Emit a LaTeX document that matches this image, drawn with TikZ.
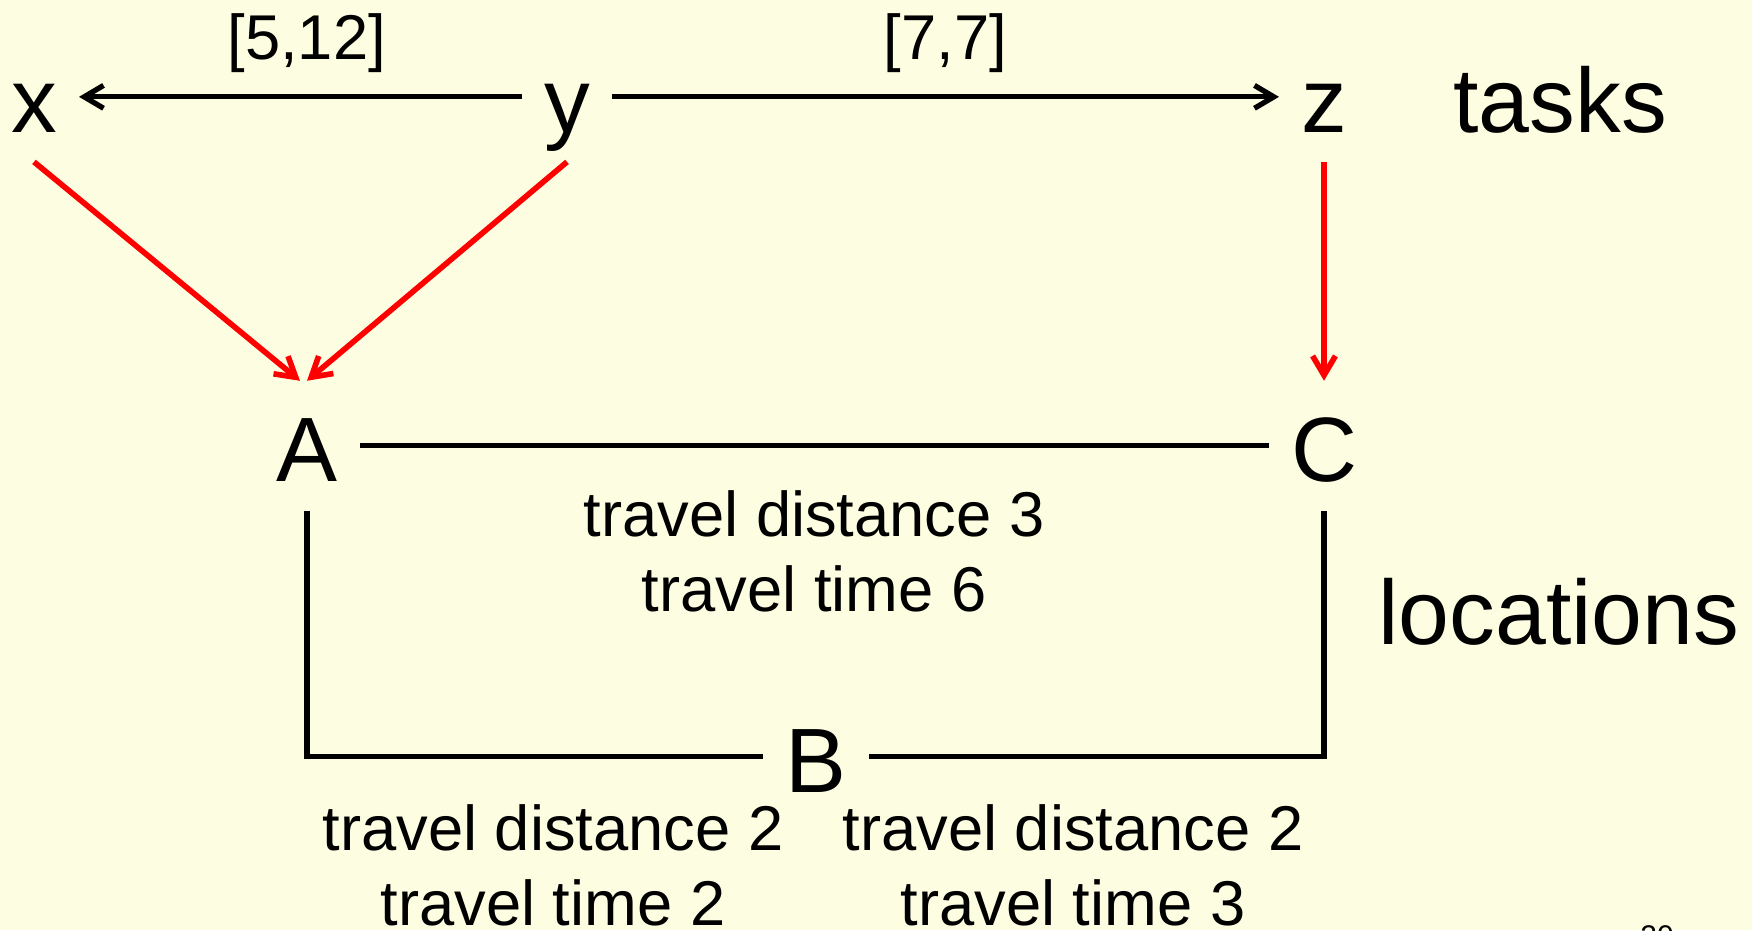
\documentclass[tikz,border=0pt]{standalone}
\usepackage{fontspec}
\setmainfont{Liberation Sans}
\usetikzlibrary{arrows.meta,positioning}
\definecolor{slidebg}{HTML}{FDFDE2}
\definecolor{asgred}{HTML}{FF0000}
\definecolor{inkdark}{HTML}{000000}
\tikzset{
  letter/.style={font=\fontsize{26}{30}\selectfont,inner sep=0pt,outer sep=6.3pt,text height=22.2pt,text depth=2.2pt,anchor=base},
  tag/.style={font=\fontsize{26}{30}\selectfont,inner sep=0pt,anchor=base},
  lbl/.style={font=\fontsize{18}{21.3}\selectfont,inner sep=0pt,align=center},
  ar/.style={-{Straight Barb[length=5.5pt,width=6.5pt]},draw=inkdark,line width=1.5pt},
  asg/.style={ar,draw=asgred,line width=1.6pt},
  link/.style={draw=inkdark,line width=1.5pt},
}

\begin{document}
\begin{tikzpicture}[x=0.01cm,y=-0.01cm]
  \fill[slidebg] (0,0) rectangle (1752,930);
  \useasboundingbox (0,0) rectangle (1752,930);

  % tasks
  \node[letter] (tx) at (34,132) {x};
  \node[letter] (ty) at (567,132) {y};
  \node[letter] (tz) at (1324,132) {z};
  \node[tag] (tasks) at (1560,132) {tasks};

  % locations
  \node[letter] (locA) at (307,481) {A};
  \node[letter] (locC) at (1324,481) {C};
  \node[letter] (locB) at (816,792) {B};
  \node[tag] (locs) at (1559,644) {locations};

  % temporal constraints
  \draw[ar] (ty) -- node[lbl,pos=0.486,anchor=base,yshift=10.5pt]{[5,12]} (tx);
  \draw[ar] (ty) -- node[lbl,midway,anchor=base,yshift=10.5pt]{[7,7]} (tz);

  % assignments
  \draw[asg] (tx.south) -- ([xshift=-2pt]locA.north);
  \draw[asg] (ty.south) -- (locA.north);
  \draw[asg] (tz) -- (locC);

  % roads
  \draw[link] (locA) -- node[lbl,midway,below=12pt]{travel distance 3\\travel time 6} (locC);
  \draw[link] (locA.south) |- (locB.west);
  \draw[link] (locC.south) |- (locB.east);
  \node[lbl,anchor=north] (roadAB) at (553,804) {travel distance 2\\travel time 2};
  \node[lbl,anchor=north] (roadBC) at (1073,804) {travel distance 2\\travel time 3};

  \node[font=\fontsize{8.5}{10}\selectfont,inner sep=0pt,anchor=north] (pg) at (1657,925) {20};
\end{tikzpicture}
\end{document}
